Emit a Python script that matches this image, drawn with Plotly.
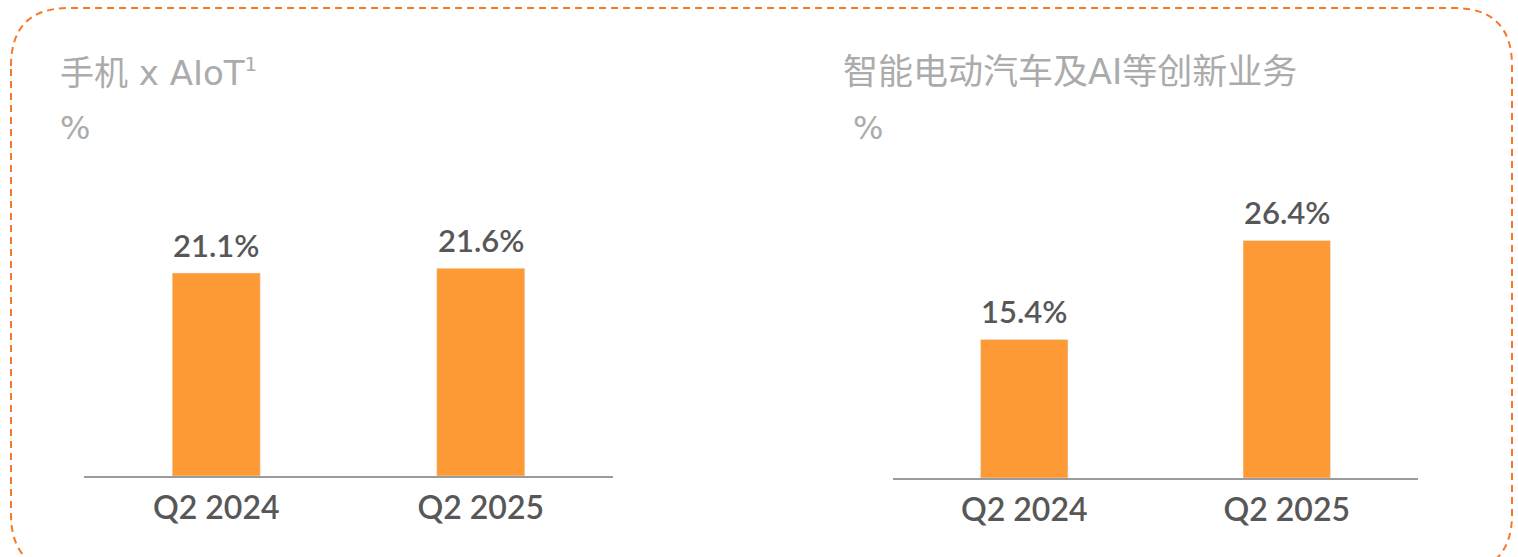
import plotly.graph_objects as go

categories = ["Q2 2024", "Q2 2025"]
phone_aiot = [21.1, 21.6]
ev_ai = [15.4, 26.4]
titles = ["手机 x AIoT<sup><span style='font-size:20px'>1</span></sup>", "智能电动汽车及AI等创新业务"]
unit = "%"

W, H = 1518, 557
BAR = "#FD9A35"
TXT = "#575757"
GREY = "#ABABAB"
FONT = "'DejaVu Sans', 'Noto Sans CJK SC', sans-serif"
VFONT = "Lato, 'DejaVu Sans', sans-serif"

def px(x):
    return x / W

def py(y):
    return 1 - y / H

fig = go.Figure()
fig.add_trace(go.Bar(x=categories, y=phone_aiot, marker_color=BAR, width=0.333,
                     xaxis="x", yaxis="y", hoverinfo="skip"))
fig.add_trace(go.Bar(x=categories, y=ev_ai, marker_color=BAR, width=0.333,
                     xaxis="x2", yaxis="y2", hoverinfo="skip"))

annotations = []
for xr, yr, vals in (("x", "y", phone_aiot), ("x2", "y2", ev_ai)):
    for c, v in zip(categories, vals):
        annotations.append(dict(x=c, y=v, xref=xr, yref=yr, text=f"{v:.1f}%",
                                showarrow=False, yanchor="bottom", yshift=7,
                                font=dict(family=VFONT, size=31, color=TXT, weight=600)))

for tx, ux, t, sz in ((58, 58, titles[0], 34), (841, 851, titles[1], 35)):
    annotations.append(dict(x=px(tx), y=py(72), xref="paper", yref="paper", text=t,
                            showarrow=False, xanchor="left", yanchor="middle",
                            font=dict(family=FONT, size=sz, color=GREY)))
    annotations.append(dict(x=px(ux), y=py(128), xref="paper", yref="paper", text=unit,
                            showarrow=False, xanchor="left", yanchor="middle",
                            font=dict(family=FONT, size=32, color=GREY)))

xa = dict(type="category", range=[-0.5, 1.5], showline=True, linecolor="#9B9B9B",
          linewidth=2, showgrid=False, zeroline=False, ticks="outside", ticklen=3,
          tickcolor="rgba(0,0,0,0)",
          tickfont=dict(family=VFONT, size=32, color=TXT, weight=600), fixedrange=True)
ya = dict(visible=False, showgrid=False, zeroline=False, fixedrange=True)

# border path (rounded rectangle) in paper coords
L, R_, T, B = 11, 1512, 8, 572
rx, ry = 58, 58
path = (f"M {px(L)},{py(T+ry)} Q {px(L)},{py(T)} {px(L+rx)},{py(T)} "
        f"L {px(R_-rx)},{py(T)} Q {px(R_)},{py(T)} {px(R_)},{py(T+ry)} "
        f"L {px(R_)},{py(B-ry)} Q {px(R_)},{py(B)} {px(R_-rx)},{py(B)} "
        f"L {px(L+rx)},{py(B)} Q {px(L)},{py(B)} {px(L)},{py(B-ry)} Z")

fig.update_layout(
    width=W, height=H, autosize=False,
    margin=dict(l=0, r=0, t=0, b=0),
    paper_bgcolor="white", plot_bgcolor="white",
    showlegend=False,
    xaxis=dict(xa, domain=[px(84), px(613)], anchor="y"),
    yaxis=dict(ya, domain=[py(476), py(166)], range=[0, 310 / 9.62], anchor="x"),
    xaxis2=dict(xa, domain=[px(893), px(1418)], anchor="y2"),
    yaxis2=dict(ya, domain=[py(478), py(166)], range=[0, 312 / 9.0], anchor="x2"),
    annotations=annotations,
    shapes=[dict(type="path", path=path, xref="paper", yref="paper",
                 line=dict(color="#F47A2A", width=2, dash="7px,5px"),
                 fillcolor="rgba(0,0,0,0)", layer="below")],
)

fig.write_html("out.html", config={"displayModeBar": False},
               post_script="document.body.style.margin='0';document.body.style.overflow='hidden';")
